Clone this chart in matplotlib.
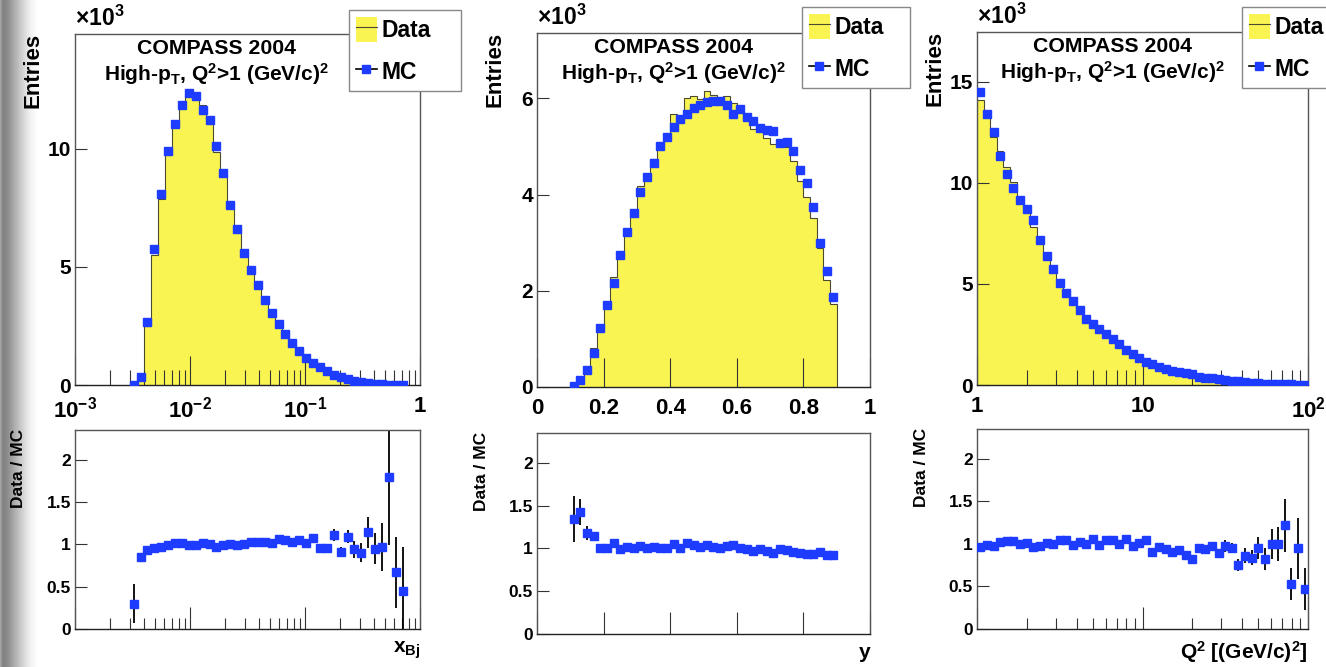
import numpy as np
import matplotlib
matplotlib.use('Agg')
import matplotlib.pyplot as plt
from matplotlib.lines import Line2D
from matplotlib.patches import Patch
from matplotlib.ticker import FixedLocator, NullFormatter, NullLocator

plt.rcParams['font.family'] = ['Liberation Sans', 'DejaVu Sans']
plt.rcParams['font.weight'] = 'bold'
plt.rcParams['mathtext.fontset'] = 'custom'
plt.rcParams['mathtext.rm'] = 'Liberation Sans:bold'
plt.rcParams['mathtext.bf'] = 'Liberation Sans:bold'
plt.rcParams['mathtext.it'] = 'Liberation Sans:bold'
plt.rcParams['mathtext.default'] = 'bf'

# ---- x_Bj : 50 log bins 1e-3..1, bins 8..47 filled (values in 10^3 entries)
xbj_mc = [0.02, 0.35, 2.65, 5.76, 8.09, 9.92, 11.05, 11.87, 12.38, 12.23,
          11.67, 11.22, 10.14, 9.00, 7.62, 6.63, 5.59, 4.88, 4.24, 3.58,
          3.07, 2.57, 2.18, 1.80, 1.43, 1.16, 0.92, 0.78, 0.61, 0.41,
          0.35, 0.24, 0.18, 0.13, 0.08, 0.05, 0.035, 0.02, 0.012, 0.008]
xbj_data = [0.006, 0.30, 2.50, 5.52, 7.86, 9.76, 10.98, 11.85, 12.24, 12.14,
            11.86, 11.25, 9.88, 8.90, 7.70, 6.65, 5.62, 5.02, 4.36, 3.72,
            3.18, 2.70, 2.28, 1.86, 1.52, 1.20, 1.00, 0.78, 0.60, 0.46,
            0.32, 0.26, 0.17, 0.12, 0.09, 0.05, 0.034, 0.036, 0.008, 0.004]
xbj_ratio = [0.30, 0.85, 0.93, 0.96, 0.97, 0.99, 1.01, 1.01, 0.99, 0.99,
             1.02, 1.00, 0.97, 0.99, 1.00, 0.99, 1.00, 1.03, 1.03, 1.03,
             1.02, 1.06, 1.05, 1.03, 1.05, 1.02, 1.08, 0.96, 0.96, 1.11,
             0.91, 1.09, 0.94, 0.90, 1.14, 0.95, 0.97, 1.79, 0.67, 0.45]
xbj_err = [0.23, 0.04, 0.02, 0.015, 0.012, 0.01, 0.01, 0.01, 0.01, 0.01,
           0.01, 0.01, 0.01, 0.01, 0.012, 0.012, 0.013, 0.014, 0.015, 0.016,
           0.018, 0.02, 0.02, 0.022, 0.025, 0.03, 0.035, 0.04, 0.045, 0.07,
           0.06, 0.08, 0.10, 0.11, 0.18, 0.18, 0.28, 0.80, 0.42, 0.52]

# ---- y : 0.02 wide bins from 0.10 to 0.90
y_mc = [0.03, 0.14, 0.36, 0.71, 1.23, 1.71, 2.16, 2.74, 3.22, 3.61,
        4.05, 4.36, 4.65, 5.01, 5.20, 5.41, 5.58, 5.67, 5.81, 5.87,
        5.92, 5.95, 5.94, 5.86, 5.67, 5.79, 5.62, 5.53, 5.39, 5.34,
        5.32, 5.08, 5.10, 4.90, 4.51, 4.25, 3.74, 3.00, 2.41, 1.87]
y_data = [0.04, 0.20, 0.42, 0.82, 1.23, 1.71, 2.29, 2.71, 3.28, 3.65,
          4.17, 4.40, 4.74, 5.01, 5.20, 5.68, 5.58, 6.01, 6.04, 5.99,
          6.16, 6.07, 6.00, 6.04, 5.90, 5.85, 5.56, 5.36, 5.34, 5.18,
          5.05, 5.03, 5.00, 4.70, 4.28, 3.95, 3.52, 2.88, 2.22, 1.72]
y_ratio = [1.34, 1.43, 1.18, 1.15, 1.00, 1.00, 1.06, 0.99, 1.02, 1.01,
           1.03, 1.01, 1.02, 1.00, 1.00, 1.05, 1.00, 1.06, 1.04, 1.02,
           1.04, 1.02, 1.01, 1.03, 1.04, 1.01, 0.99, 0.97, 0.99, 0.97,
           0.95, 0.99, 0.98, 0.96, 0.95, 0.93, 0.94, 0.96, 0.92, 0.92]
y_err = [0.27, 0.15, 0.08, 0.04, 0.03, 0.02, 0.02, 0.015, 0.012, 0.012,
         0.012, 0.012, 0.012, 0.012, 0.012, 0.012, 0.012, 0.012, 0.012, 0.012,
         0.012, 0.012, 0.012, 0.012, 0.012, 0.012, 0.012, 0.012, 0.012, 0.012,
         0.012, 0.012, 0.012, 0.012, 0.012, 0.012, 0.012, 0.012, 0.012, 0.012]

# ---- Q^2 : 50 log bins 1..100
q2_mc = [14.52, 13.40, 12.51, 11.34, 10.46, 9.77, 9.16, 8.70, 8.17, 7.19,
         6.39, 5.76, 5.07, 4.54, 4.16, 3.70, 3.25, 3.00, 2.76, 2.51,
         2.26, 2.01, 1.72, 1.52, 1.32, 1.16, 1.02, 0.91, 0.79, 0.69,
         0.64, 0.59, 0.53, 0.41, 0.36, 0.33, 0.28, 0.23, 0.20, 0.18,
         0.15, 0.12, 0.08, 0.07, 0.05, 0.04, 0.035, 0.025, 0.02, 0.015]
q2_data = [14.10, 13.27, 12.26, 11.57, 10.77, 10.06, 9.16, 8.79, 7.84, 7.05,
           6.45, 5.76, 5.27, 4.72, 4.12, 3.77, 3.25, 3.18, 2.73, 2.61,
           2.35, 2.01, 1.82, 1.49, 1.33, 1.22, 0.93, 0.87, 0.74, 0.63,
           0.60, 0.51, 0.43, 0.39, 0.34, 0.32, 0.25, 0.23, 0.19, 0.135,
           0.13, 0.10, 0.076, 0.057, 0.05, 0.04, 0.043, 0.013, 0.019, 0.007]
q2_ratio = [0.96, 0.99, 0.98, 1.02, 1.03, 1.03, 1.00, 1.01, 0.96, 0.98,
            1.01, 1.00, 1.04, 1.04, 0.99, 1.02, 1.00, 1.06, 0.99, 1.04,
            1.04, 1.00, 1.06, 0.98, 1.01, 1.05, 0.91, 0.96, 0.94, 0.91,
            0.93, 0.87, 0.82, 0.95, 0.94, 0.97, 0.89, 0.98, 0.95, 0.75,
            0.86, 0.84, 0.95, 0.82, 1.00, 1.00, 1.22, 0.53, 0.95, 0.47]
q2_err = [0.012, 0.012, 0.013, 0.013, 0.014, 0.014, 0.015, 0.015, 0.016, 0.017,
          0.018, 0.019, 0.02, 0.021, 0.022, 0.024, 0.025, 0.026, 0.028, 0.03,
          0.032, 0.034, 0.036, 0.038, 0.04, 0.043, 0.03, 0.035, 0.035, 0.04,
          0.04, 0.04, 0.045, 0.04, 0.04, 0.05, 0.05, 0.07, 0.06, 0.07,
          0.09, 0.09, 0.13, 0.13, 0.18, 0.20, 0.31, 0.19, 0.36, 0.25]

W, H = 1326, 667
YELLOW = '#faf452'
BLUE = '#1e3cff'
EDGE = '#4a4a30'

fig = plt.figure(figsize=(W / 100, H / 100), dpi=100)


def box(x0, y0, x1, y1):
    return [x0 / W, 1 - y1 / H, (x1 - x0) / W, (y1 - y0) / H]


def fx(x):
    return x / W


def fy(y):
    return 1 - y / H


# grey shadow strip on the left edge
axbg = fig.add_axes([0, 0, 38 / W, 1], zorder=-5)
prof = np.interp(np.linspace(0, 38, 80), [0, 3, 8, 20, 30, 38], [0.66, 0.5, 0.56, 0.78, 0.94, 1.0])
axbg.imshow(prof[np.newaxis, :], aspect='auto', cmap='gray', vmin=0, vmax=1, extent=[0, 1, 0, 1])
axbg.axis('off')


def style(ax, major_len, minor_len):
    for s in ax.spines.values():
        s.set_color('#555555')
        s.set_linewidth(1.0)
    ax.spines['bottom'].set_color('#222222')
    ax.tick_params(axis='x', which='major', direction='in', length=major_len, width=0.8,
                   color='#333333', top=False)
    ax.tick_params(axis='x', which='minor', direction='in', length=minor_len, width=0.8,
                   color='#333333', top=False)
    ax.tick_params(axis='y', which='major', direction='in', length=8.5, width=0.8,
                   color='#333333', right=False, pad=3)
    ax.tick_params(axis='y', which='minor', left=False)


def panel(top_box, bot_box, edges, data, mc, ratio, err, log, ymax, yticks,
          xticks, xlabels, minors, leg_box, xlabel, xlabel_y):
    edges = np.asarray(edges)
    if log:
        centers = np.sqrt(edges[:-1] * edges[1:])
    else:
        centers = 0.5 * (edges[:-1] + edges[1:])

    ax = fig.add_axes(box(*top_box))
    ax.stairs(data, edges, fill=True, color=YELLOW, zorder=1)
    ax.stairs(data, edges, fill=False, color=EDGE, lw=0.8, zorder=1.1)
    ax.plot(centers, mc, 's', color=BLUE, ms=5.5, zorder=3)
    if log:
        ax.set_xscale('log')
    ax.set_xlim(xticks[0], xticks[-1])
    ax.set_ylim(0, ymax)
    ax.xaxis.set_major_locator(FixedLocator(xticks))
    ax.set_xticklabels(xlabels)
    ax.xaxis.set_minor_locator(FixedLocator(minors) if minors else NullLocator())
    ax.xaxis.set_minor_formatter(NullFormatter())
    ax.yaxis.set_major_locator(FixedLocator(yticks))
    ax.set_yticklabels([str(v) for v in yticks])
    ax.yaxis.set_minor_locator(NullLocator())
    style(ax, 21, 10.5)
    ax.tick_params(axis='x', labelsize=16, pad=8)
    ax.tick_params(axis='y', labelsize=15)

    ax.text(0.41, 0.96, 'COMPASS 2004', transform=ax.transAxes, ha='center', va='center',
            fontsize=15.3, fontweight='bold')
    ax.text(0.41, 0.886, r'High-p$_{T}$, Q$^{2}$>1 (GeV/c)$^{2}$', transform=ax.transAxes,
            ha='center', va='center', fontsize=15, fontweight='bold')
    fig.text(fx(top_box[0]), fy(top_box[1] - 3), r'$\times$10$^{3}$', ha='left',
             va='bottom', fontsize=16.5)
    fig.text(fx(top_box[0] - 42), fy(top_box[1] - 1), 'Entries', rotation=90,
             ha='center', va='top', fontsize=16, fontweight='bold')

    h_data = (Patch(facecolor=YELLOW, edgecolor='none'), Line2D([], [], color=EDGE, lw=0.8))
    h_mc = Line2D([], [], color='k', lw=1.2, marker='s', ms=5.5, mfc=BLUE, mec=BLUE)
    lx0, ly0, lx1, ly1 = leg_box
    leg = ax.legend([h_data, h_mc], ['Data', 'MC'], loc='upper left',
                    bbox_to_anchor=(fx(lx0), fy(ly1), fx(lx1) - fx(lx0), fy(ly0) - fy(ly1)),
                    bbox_transform=fig.transFigure, mode='expand', borderaxespad=0,
                    frameon=True, fancybox=False, framealpha=1, edgecolor='#888888',
                    prop={'size': 16.5, 'weight': 'bold'}, handlelength=0.9,
                    handleheight=1.3, handletextpad=0.2, labelspacing=0.75, borderpad=0.3)
    leg.get_frame().set_linewidth(1.0)
    leg.set_zorder(10)

    bx = fig.add_axes(box(*bot_box))
    bx.errorbar(centers, ratio, yerr=err, fmt='none', ecolor='k', elinewidth=1.3, zorder=2)
    bx.plot(centers, ratio, 's', color=BLUE, ms=5.5, zorder=3)
    if log:
        bx.set_xscale('log')
    bx.set_xlim(xticks[0], xticks[-1])
    bx.set_ylim(0, 2.35)
    bx.xaxis.set_major_locator(FixedLocator(xticks))
    bx.xaxis.set_minor_locator(FixedLocator(minors) if minors else NullLocator())
    bx.xaxis.set_major_formatter(NullFormatter())
    bx.xaxis.set_minor_formatter(NullFormatter())
    bx.yaxis.set_major_locator(FixedLocator([0, 0.5, 1, 1.5, 2]))
    bx.set_yticklabels(['0', '0.5', '1', '1.5', '2'])
    bx.yaxis.set_minor_locator(NullLocator())
    style(bx, 16, 8)
    bx.tick_params(axis='y', labelsize=12.5)
    fig.text(fx(bot_box[0] - 56), fy(bot_box[1] - 1), 'Data / MC', rotation=90,
             ha='center', va='top', fontsize=12.5, fontweight='bold')
    fig.text(fx(bot_box[2]), fy(xlabel_y), xlabel, ha='right', va='center',
             fontsize=15, fontweight='bold')


xbj_edges = np.logspace(-3, 0, 51)[8:49]
y_edges = np.linspace(0, 1, 51)[5:46]
q2_edges = np.logspace(0, 2, 51)

dec_minor = lambda lo, hi: [m * 10.0 ** e for e in range(lo, hi) for m in range(2, 10)]

panel((75, 34, 420, 385), (75, 430, 420, 629), xbj_edges, xbj_data, xbj_mc, xbj_ratio, xbj_err,
      True, 14.87, [0, 5, 10], [1e-3, 1e-2, 1e-1, 1],
      [r'10$^{-3}$', r'10$^{-2}$', r'10$^{-1}$', '1'], dec_minor(-3, 0),
      (349, 10, 461, 88), r'x$_{Bj}$', 650)

panel((537, 33, 870, 387), (537, 433, 870, 634), y_edges, y_data, y_mc, y_ratio, y_err,
      False, 7.36, [0, 2, 4, 6], [0, 0.2, 0.4, 0.6, 0.8, 1],
      ['0', '0.2', '0.4', '0.6', '0.8', '1'], None,
      (802, 7, 910, 86), 'y', 652)

panel((977, 32, 1308, 385), (977, 429, 1308, 629), q2_edges, q2_data, q2_mc, q2_ratio, q2_err,
      True, 17.47, [0, 5, 10, 15], [1, 10, 100],
      ['1', '10', r'10$^{2}$'], dec_minor(0, 2),
      (1242, 7, 1345, 85), r'Q$^{2}$ [(GeV/c)$^{2}$]', 652)

fig.savefig('out.png', dpi=100)
